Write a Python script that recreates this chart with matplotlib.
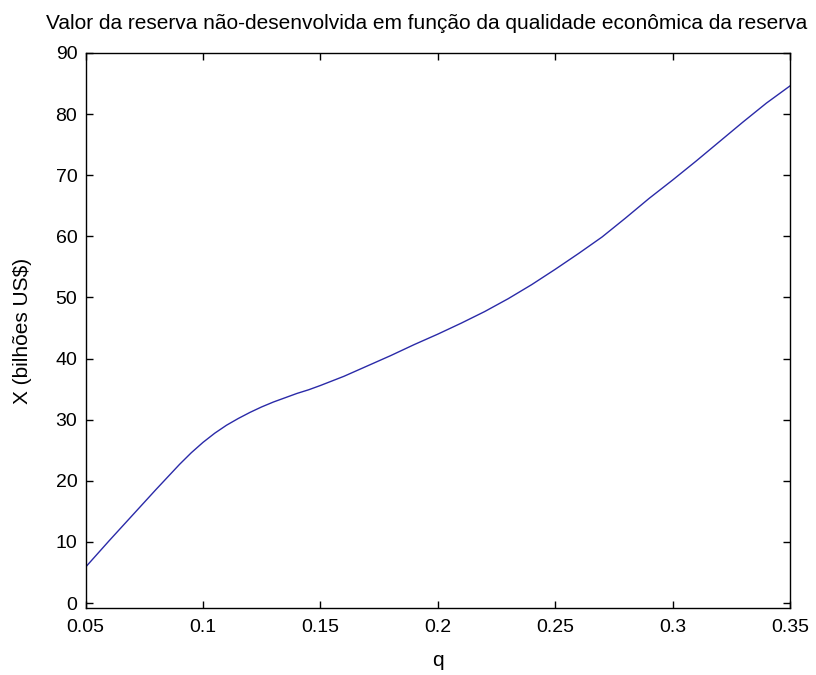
import numpy as np
import matplotlib
import matplotlib.pyplot as plt

matplotlib.use("Agg")

# values
q = [0.05, 0.06, 0.07, 0.08, 0.09, 0.095, 0.10, 0.105, 0.11, 0.115, 0.12,
     0.125, 0.13, 0.135, 0.14, 0.145, 0.15,
     0.16, 0.17, 0.18, 0.19, 0.20, 0.21, 0.22, 0.23, 0.24, 0.25,
     0.26, 0.27, 0.28, 0.29, 0.30, 0.31, 0.32, 0.33, 0.34, 0.35]
valor = [5.9, 10.2, 14.4, 18.6, 22.7, 24.6, 26.3, 27.8, 29.1, 30.2, 31.2,
         32.1, 32.9, 33.6, 34.3, 34.9, 35.6,
         37.1, 38.8, 40.5, 42.3, 44.0, 45.8, 47.7, 49.8, 52.1, 54.6,
         57.2, 59.9, 63.0, 66.2, 69.2, 72.3, 75.5, 78.7, 81.8, 84.6]
xticks = [0.05, 0.1, 0.15, 0.2, 0.25, 0.3, 0.35]
xtick_labels = ["0.05", "0.1", "0.15", "0.2", "0.25", "0.3", "0.35"]
yticks = [0, 10, 20, 30, 40, 50, 60, 70, 80, 90]

plt.rcParams["font.family"] = ["Liberation Sans", "DejaVu Sans"]

fig = plt.figure(figsize=(8.16, 6.75), dpi=100)
ax = fig.add_axes([0.105, 0.0993, 0.863, 0.8222])

ax.plot(q, valor, color="#2a2aa8", lw=1.0)

ax.set_xlim(0.05, 0.35)
ax.set_ylim(-0.8, 90)
ax.set_xticks(xticks)
ax.set_xticklabels(xtick_labels)
ax.set_yticks(yticks)
ax.tick_params(direction="in", length=5, width=1, top=True, right=True,
               labelsize=14, pad=6)
ax.tick_params(axis="x", pad=8)
for s in ax.spines.values():
    s.set_linewidth(1.0)

ax.set_xlabel("q", fontsize=15, labelpad=11)
ax.set_ylabel("X (bilhões US$)", fontsize=15, labelpad=17)
ax.set_title("Valor da reserva não-desenvolvida em função da qualidade econômica da reserva",
             fontsize=15, pad=17, x=0.4837)

fig.savefig("out.png", dpi=100)
plt.close(fig)
